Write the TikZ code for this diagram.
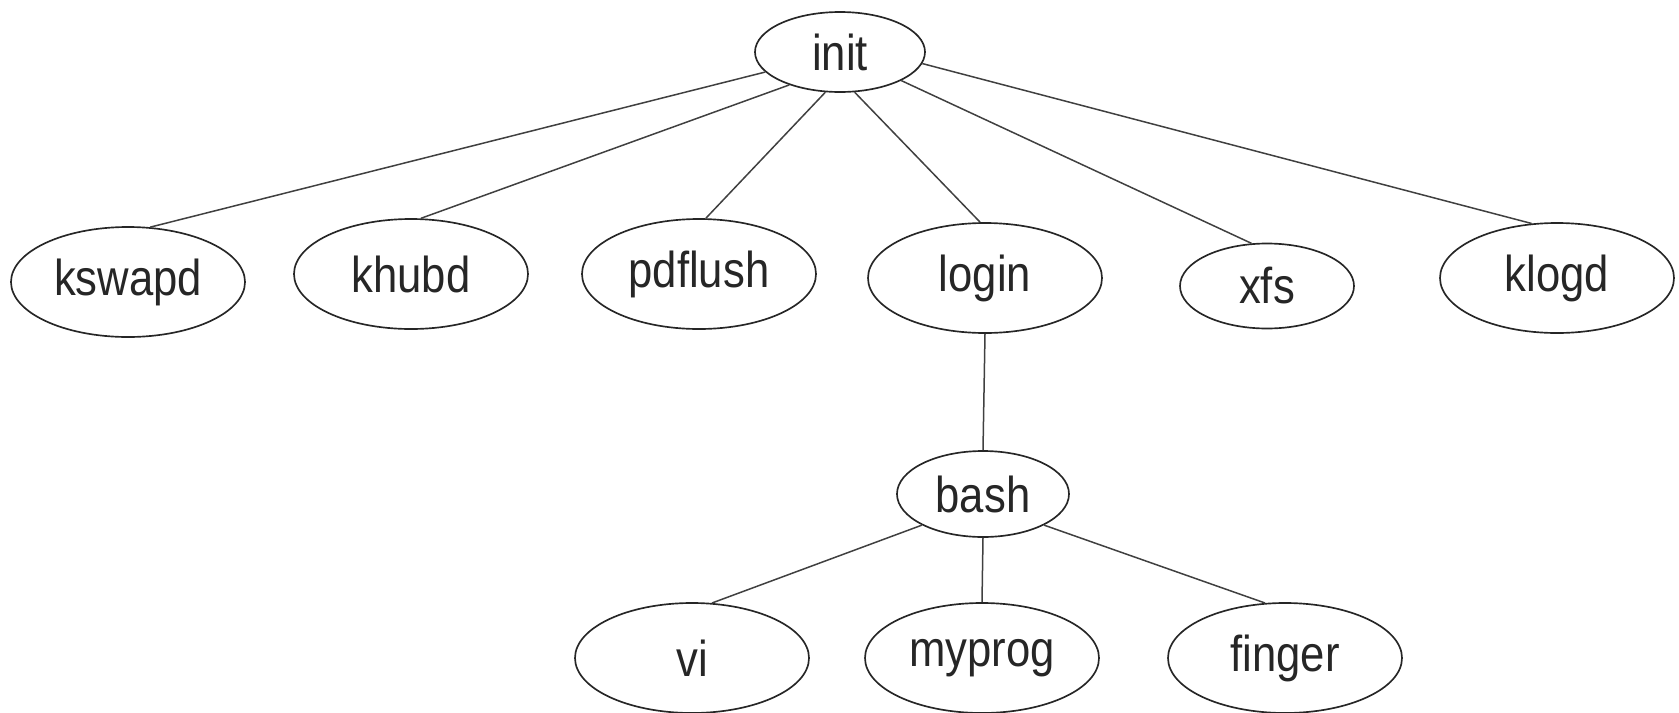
\documentclass[tikz,border=0pt]{standalone}
\usepackage{fontspec}
\usepackage{graphicx}
\setmainfont{Liberation Sans}
\usetikzlibrary{shapes.geometric}
\newcommand\ptxt[1]{\scalebox{0.97}[1.12]{#1}}
\tikzset{
  proc/.style={ellipse, draw=black!85, line width=1pt, inner sep=0pt,
    minimum width=140.4pt, minimum height=66pt,
    font=\fontsize{27pt}{30pt}\selectfont, text=black!85},
  edge/.style={draw=black!75, line width=0.9pt}
}
\begin{document}
\begin{tikzpicture}[x=0.6pt,y=-0.6pt]
\useasboundingbox (0,0) rectangle (1679,712);
\node[proc, minimum width=102pt, minimum height=48pt] (init) at (840,52) {\ptxt{init}};
\node[proc] (kswapd) at (128,282) {\ptxt{kswapd}};
\node[proc] (khubd) at (411,274) {\ptxt{khubd}};
\node[proc] (pdflush) at (699,274) {\ptxt{pdflush}};
\node[proc] (login) at (985,278) {\ptxt{login}};
\node[proc, minimum width=104.4pt, minimum height=51pt] (xfs) at (1267,286) {\ptxt{xfs}};
\node[proc] (klogd) at (1557,278) {\ptxt{klogd}};
\node[proc, minimum width=103.2pt, minimum height=51.6pt] (bash) at (983,494) {\ptxt{bash}};
\node[proc] (vi) at (692,658) {\ptxt{vi}};
\node[proc] (myprog) at (982,658) {\ptxt{myprog}};
\node[proc] (finger) at (1285,658) {\ptxt{finger}};
\draw[edge] (init.195) -- (kswapd.68);
\draw[edge] (init.213) -- (khubd.80);
\draw[edge] (init.250) -- (pdflush.83);
\draw[edge] (init.290) -- (login.95);
\draw[edge] (init.335) -- (xfs.110);
\draw[edge] (init.352) -- (klogd.115);
\draw[edge] (login.south) -- (bash.north);
\draw[edge] (bash.207) -- (vi.70);
\draw[edge] (bash.south) -- (myprog.north);
\draw[edge] (bash.333) -- (finger.110);
\end{tikzpicture}
\end{document}
